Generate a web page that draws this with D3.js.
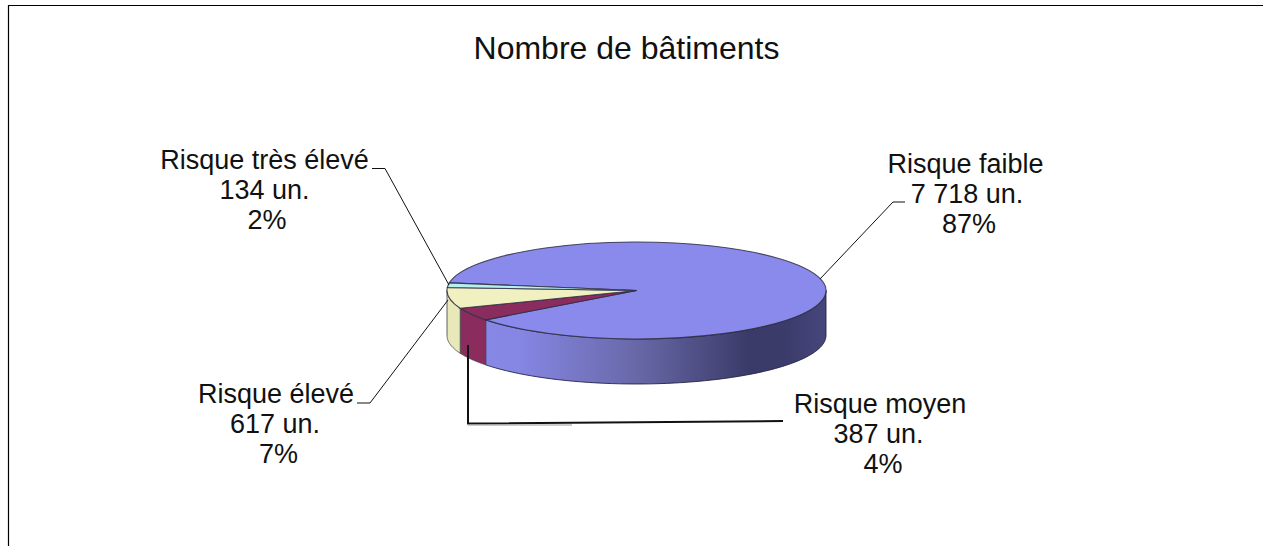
<!DOCTYPE html>
<html><head><meta charset="utf-8">
<script src="https://cdn.jsdelivr.net/npm/d3@7/dist/d3.min.js"></script>
<style>html,body{margin:0;padding:0;background:#fff;overflow:hidden}svg{display:block}text{font-family:"Liberation Sans",Arial,sans-serif;fill:#111}</style>
</head><body><svg id="c" width="1263" height="546"></svg>
<script>
const categories=["Risque faible","Risque moyen","Risque élevé","Risque très élevé"];
const values=[7718,387,617,134];
const unitLabels=["7 718 un.","387 un.","617 un.","134 un."];
const percentLabels=["87%","4%","7%","2%"];
const topColors=["#8a8aec","#8b2c5e","#f0f0c0","#b8f0f0"];
const sideColors=["#8a8aec","#8b2c5e","#e8e8b8","#a0d8d8"];
const titleText="Nombre de bâtiments";

const W=1263,H=546,cx=636.5,cy=290.5,rx=189.5,ry=48.5,depth=45;
const svg=d3.select("#c");
const sx=d3.scaleLinear().domain([-1,1]).range([cx-rx,cx+rx]);
const sy=d3.scaleLinear().domain([-1,1]).range([cy-ry,cy+ry]);
const pie=d3.pie().value(d=>d).sort(null).startAngle(279*Math.PI/180).endAngle((279+360)*Math.PI/180);
const arcs=pie(values);

svg.append("path").attr("d",`M8.5,546V5.5H${W}`).attr("fill","none").attr("stroke","#000").attr("stroke-width",1.2);

const defs=svg.append("defs");
const g=defs.append("linearGradient").attr("id","wall").attr("gradientUnits","userSpaceOnUse")
 .attr("x1",cx-rx).attr("x2",cx+rx).attr("y1",0).attr("y2",0);
[[0,"#8a8aec"],[0.2,"#8585e2"],[0.5,"#6868a8"],[0.8,"#3a3a68"],[0.9,"#3c3c6c"],[1,"#46467c"]]
 .forEach(([o,c])=>g.append("stop").attr("offset",o).attr("stop-color",c));

const pt=(a,dy=0)=>[sx(Math.sin(a)),sy(-Math.cos(a))+dy];
const line=d3.line();
const wall=(a0,a1)=>{
  const n=60, s=d3.range(n+1).map(i=>a0+(a1-a0)*i/n);
  return line([...s.map(a=>pt(a)),...s.slice().reverse().map(a=>pt(a,depth))])+"Z";
};
const PI=Math.PI;
arcs.forEach((d,i)=>{
  const ranges=[];
  const a=d.startAngle,b=d.endAngle;
  [[PI/2,3*PI/2],[PI/2+2*PI,3*PI/2+2*PI]].forEach(([l,h])=>{
    const lo=Math.max(a,l),hi=Math.min(b,h); if(lo<hi) ranges.push([lo,hi]);
  });
  ranges.forEach(([lo,hi])=>{
    svg.append("path").attr("d",wall(lo,hi))
      .attr("fill",i===0?"url(#wall)":sideColors[i])
      .attr("stroke",i===0?"#1e1e3c":"#4a4550").attr("stroke-width",1).attr("stroke-opacity",.85);
  });
});
const arc=d3.arc().innerRadius(0).outerRadius(rx);
const pieTop=svg.append("g").attr("transform",`translate(${cx},${cy}) scale(1,${ry/rx})`);
pieTop.selectAll("path").data(arcs).join("path").attr("d",arc)
  .attr("fill",(d,i)=>topColors[i]).attr("stroke","#2e2e44").attr("stroke-width",1.1)
  .attr("stroke-opacity",.85).attr("vector-effect","non-scaling-stroke");

const leaders=[
 {pts:[[905,202],[893,202],[820,279]],w:1},
 {pts:[[783,421],[468,423.5],[468,345]],w:2},
 {pts:[[357,403],[370,403],[448,300]],w:1},
 {pts:[[372,168.5],[385,168.5],[449,285]],w:1}];
leaders.forEach(l=>svg.append("path").attr("d",line(l.pts)).attr("fill","none").attr("stroke","#111").attr("stroke-width",l.w));
svg.append("line").attr("x1",468).attr("x2",572).attr("y1",425).attr("y2",425).attr("stroke","#999").attr("stroke-width",1);

svg.append("text").attr("x",626.5).attr("y",59).attr("text-anchor","middle").attr("font-size",32).text(titleText);
const labelX=[[965.5,967,969],[880,878.5,883],[276,275,278.5],[264.5,264.5,267]];
const labelY=[173,413,403,169];
const lh=30;
categories.forEach((c,i)=>{
  const t=svg.append("text").attr("text-anchor","middle").attr("font-size",27);
  [c,unitLabels[i],percentLabels[i]].forEach((s,j)=>t.append("tspan").attr("x",labelX[i][j]).attr("y",labelY[i]+j*lh).text(s));
});
</script></body></html>
